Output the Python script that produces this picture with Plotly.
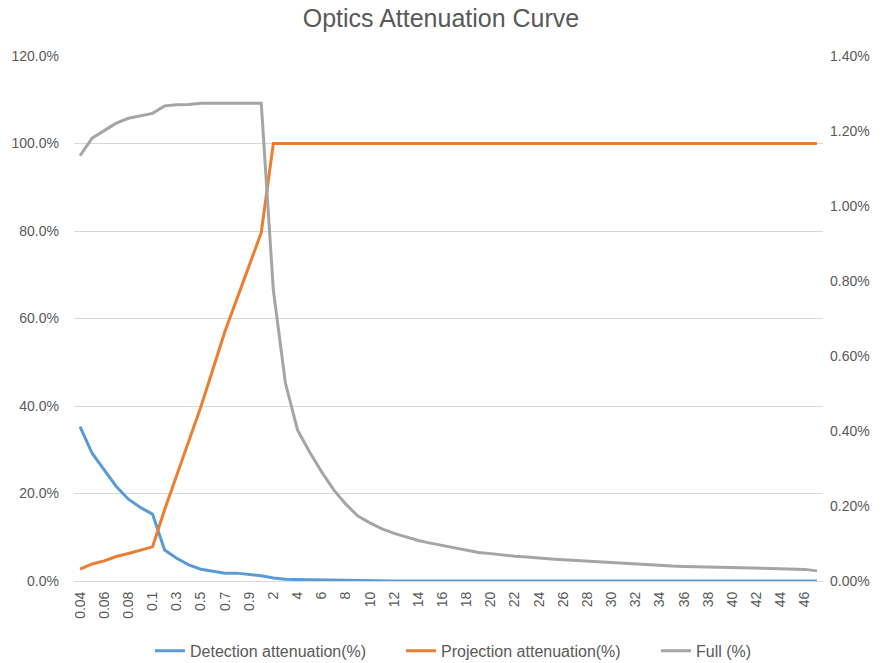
import plotly.graph_objects as go

categories = (["0.04", "0.05", "0.06", "0.07", "0.08", "0.09", "0.1",
               "0.2", "0.3", "0.4", "0.5", "0.6", "0.7", "0.8", "0.9", "1"]
              + [str(n) for n in range(2, 48)])

detection = [35.3, 29.2, 25.4, 21.6, 18.7, 16.8, 15.3, 7.1, 5.2, 3.7,
             2.7, 2.2, 1.8, 1.8, 1.5, 1.2, 0.7, 0.4, 0.35, 0.3,
             0.2, 0.1, 0.05] + [0.0] * 39

projection = [2.7, 3.9, 4.6, 5.6, 6.3, 7.1, 7.8, 16.3, 24.1, 32.0,
              39.8, 48.4, 57.1, 64.6, 72.1, 79.6] + [100.0] * 46

full = [1.134, 1.181, 1.201, 1.221, 1.234, 1.241, 1.247, 1.267, 1.270, 1.271,
        1.274, 1.274, 1.274, 1.274, 1.274, 1.274, 0.776, 0.528, 0.403, 0.344,
        0.291, 0.243, 0.205, 0.173, 0.155, 0.139, 0.127, 0.117, 0.108, 0.101,
        0.095, 0.089, 0.084, 0.076, 0.073, 0.069, 0.066, 0.064, 0.061, 0.059,
        0.057, 0.055, 0.052, 0.051, 0.049, 0.047, 0.045, 0.044, 0.042, 0.040,
        0.039, 0.038, 0.037, 0.036, 0.035, 0.034, 0.033, 0.032, 0.032, 0.031,
        0.031, 0.027]

FONT = "Liberation Sans"
TXT = "#595959"
GRID = "#d9d9d9"

fig = go.Figure()
fig.add_trace(go.Scatter(x=categories, y=detection, mode="lines",
                         name="Detection attenuation(%)", legend="legend",
                         line=dict(color="#5b9bd5", width=3)))
fig.add_trace(go.Scatter(x=categories, y=projection, mode="lines",
                         name="Projection attenuation(%)", legend="legend2",
                         line=dict(color="#ed7d31", width=3)))
fig.add_trace(go.Scatter(x=categories, y=full, mode="lines",
                         name="Full (%)", yaxis="y2", legend="legend3",
                         line=dict(color="#a5a5a5", width=3)))

leg_common = dict(orientation="h", xanchor="left", y=-0.133,
                  yanchor="middle", font=dict(size=16, color=TXT),
                  bgcolor="rgba(0,0,0,0)")

fig.update_layout(
    width=882, height=663,
    margin=dict(l=74, r=59, t=56, b=82, autoexpand=False),
    paper_bgcolor="white", plot_bgcolor="white",
    font=dict(family=FONT, color=TXT, size=14),
    title=dict(text="Optics Attenuation Curve", x=0.5, xanchor="center",
               y=0.973, yanchor="middle",
               font=dict(family=FONT, size=25, color=TXT)),
    xaxis=dict(type="category", range=[-0.5, len(categories) - 0.5],
               tickmode="array", tickvals=categories[::2],
               ticktext=categories[::2], tickangle=-90,
               showgrid=False, showline=True, linecolor=GRID, linewidth=1,
               ticks="", automargin=False, ticklabelstandoff=4,
               tickfont=dict(size=14, color=TXT)),
    yaxis=dict(range=[0, 120], dtick=20, tickformat=".1f", ticksuffix="%",
               showgrid=True, gridcolor=GRID, gridwidth=1, zeroline=False,
               showline=False, ticks="", automargin=False,
               ticklabelstandoff=14, tickfont=dict(size=14, color=TXT)),
    yaxis2=dict(range=[0, 1.4], dtick=0.2, tickformat=".2f", ticksuffix="%",
                overlaying="y", side="right", showgrid=False, zeroline=False,
                showline=False, ticks="", automargin=False,
                ticklabelstandoff=6, tickfont=dict(size=14, color=TXT)),
    legend=dict(x=0.1015, **leg_common),
    legend2=dict(x=0.4366, **leg_common),
    legend3=dict(x=0.777, **leg_common),
    showlegend=True,
)

fig.write_html("out.html")
